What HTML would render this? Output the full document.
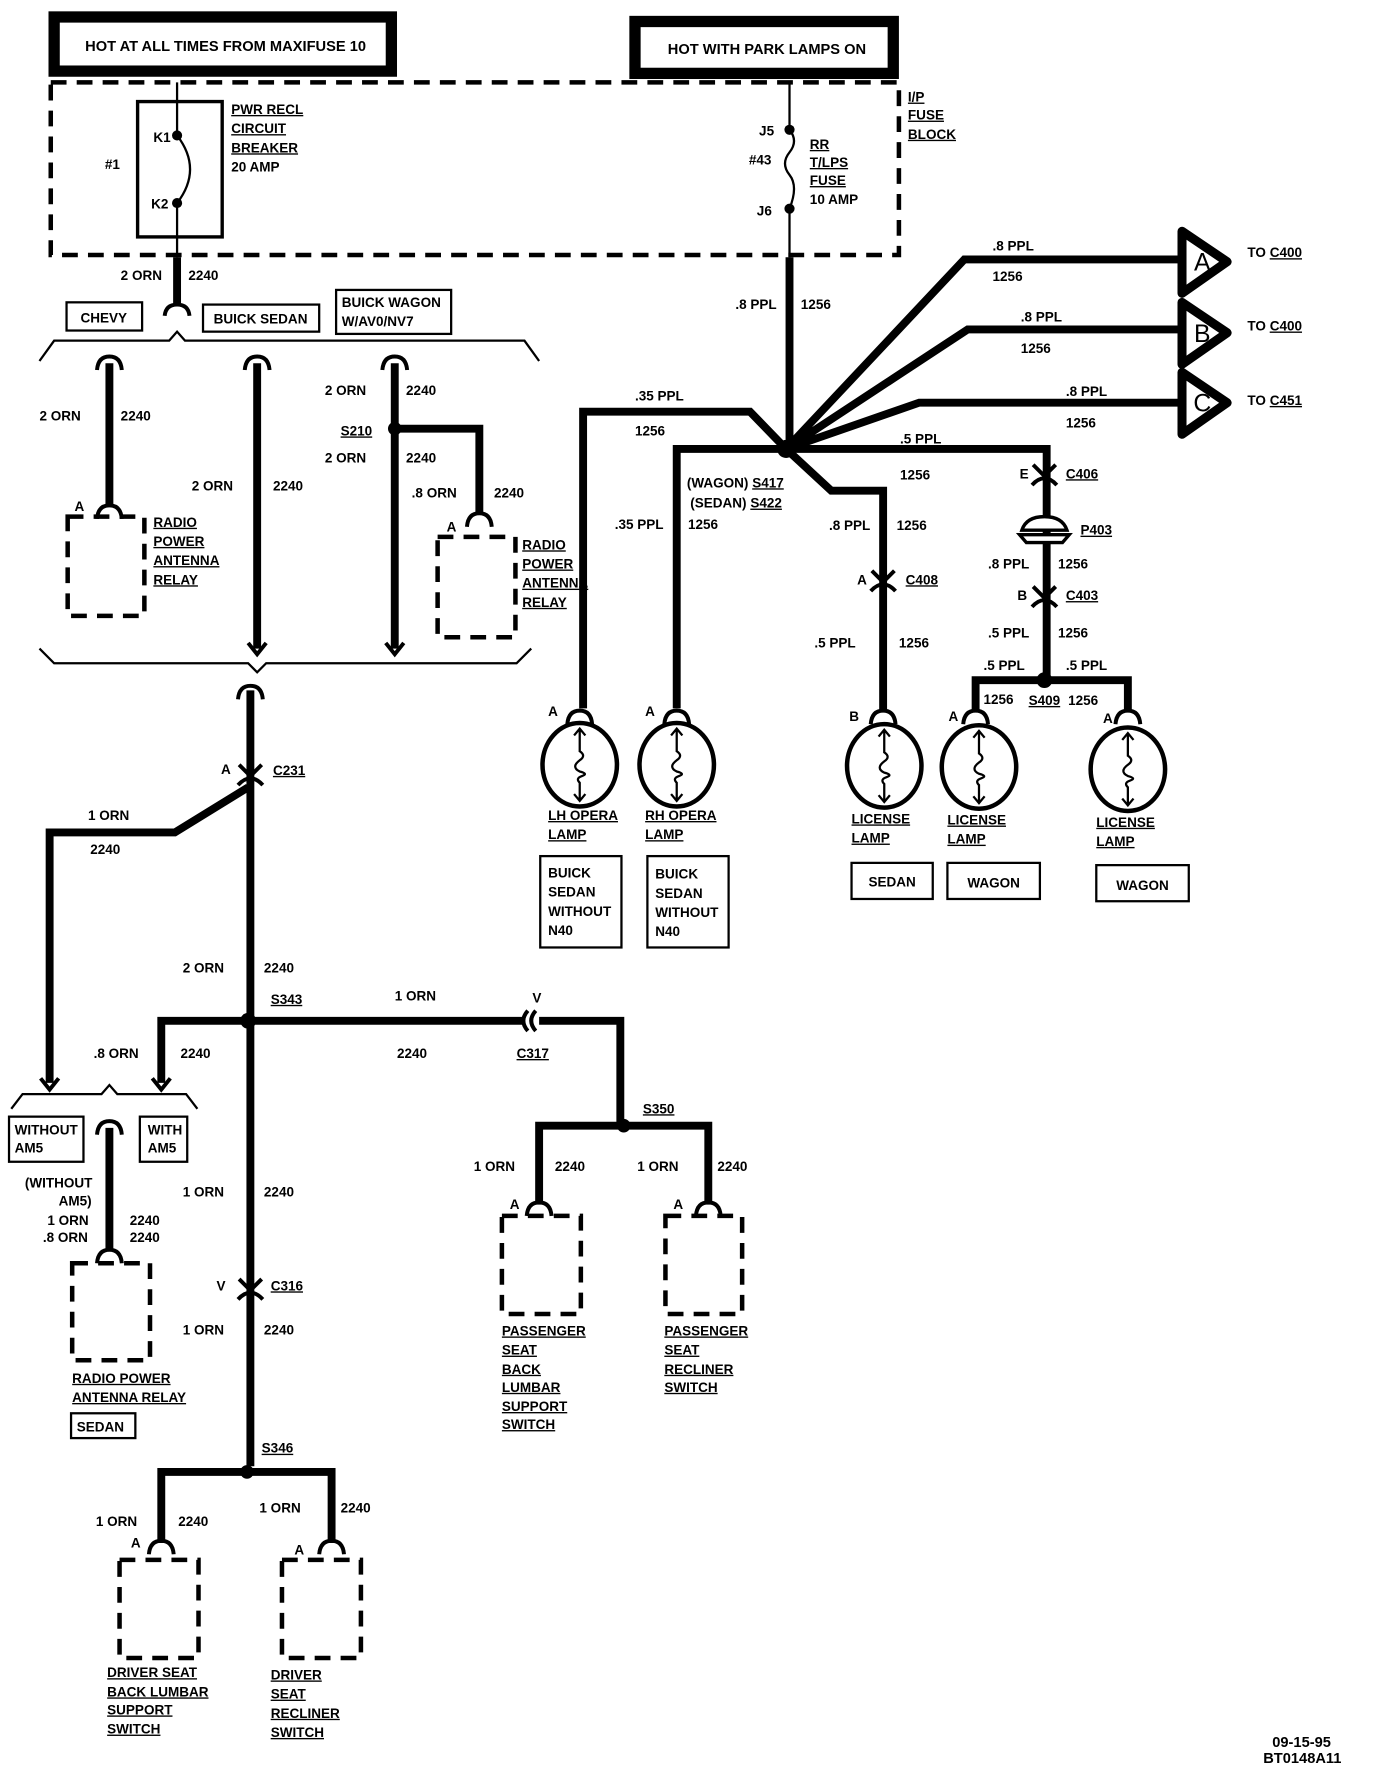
<!DOCTYPE html>
<html><head><meta charset="utf-8"><style>
html,body{margin:0;padding:0;background:#fff}
svg{display:block}
text{font-family:"Liberation Sans",sans-serif;font-weight:bold;font-size:12px;fill:#000}
.u{text-decoration:underline}
.w{stroke:#000;stroke-width:7;fill:none}
.t{stroke:#000;stroke-width:2;fill:none}
.d{stroke:#000;stroke-width:4;fill:none;stroke-dasharray:14 9}
.c{stroke:#000;stroke-width:3.5;fill:none}
.big{font-size:22px;font-weight:normal}
.h{font-size:13px}
</style></head><body>
<svg width="1376" height="1772" viewBox="0 0 1220 1571" xmlns="http://www.w3.org/2000/svg">
<defs>
<g id="fc"><path class="c" d="M-11,8 Q-10,-4 0,-4 Q10,-4 11,8"/></g>
<g id="ic"><path class="c" d="M-10,-8 L0,2 L10,-8 M-11,10 Q0,-2 11,10"/></g>
<g id="lamp"><ellipse cx="0" cy="0" rx="33" ry="37" stroke="#000" stroke-width="4" fill="none"/>
<path class="t" d="M0,-32 L0,-12 Q6,-8 0,-4 Q-8,2 0,6 Q8,8 2,10 Q-4,12 0,16 L0,32 M-5,-26 L0,-32 L5,-26 M-5,26 L0,32 L5,26"/></g>
</defs>
<!-- headers -->
<rect x="48" y="15" width="299" height="48" fill="none" stroke="#000" stroke-width="10"/>
<text x="200" y="45" text-anchor="middle" class="h">HOT AT ALL TIMES FROM MAXIFUSE 10</text>
<rect x="563" y="19" width="229" height="46" fill="none" stroke="#000" stroke-width="10"/>
<text x="680" y="48" text-anchor="middle" class="h">HOT WITH PARK LAMPS ON</text>
<rect x="45" y="73" width="752" height="153" class="d"/>
<!-- breaker -->
<rect x="122" y="90" width="75" height="120" fill="none" stroke="#000" stroke-width="3"/>
<path class="t" d="M157,73 V120 M157,180 V228"/>
<path class="t" d="M157,120 Q180,150 157,180"/>
<circle cx="157" cy="120" r="4.5"/><circle cx="157" cy="180" r="4.5"/>
<text x="136" y="126">K1</text><text x="134" y="185">K2</text><text x="93" y="150">#1</text>
<text x="205" y="101" class="u">PWR RECL</text><text x="205" y="118" class="u">CIRCUIT</text><text x="205" y="135" class="u">BREAKER</text><text x="205" y="152">20 AMP</text>
<!-- fuse -->
<path class="t" d="M700,73 V115 M700,185 V228"/>
<path class="t" d="M700,115 Q708,125 700,135 Q692,145 700,155 Q708,165 700,185"/>
<circle cx="700" cy="115" r="4.5"/><circle cx="700" cy="185" r="4.5"/>
<text x="673" y="120">J5</text><text x="664" y="146">#43</text><text x="671" y="191">J6</text>
<text x="718" y="132" class="u">RR</text><text x="718" y="148" class="u">T/LPS</text><text x="718" y="164" class="u">FUSE</text><text x="718" y="181">10 AMP</text>
<text x="805" y="90" class="u">I/P</text><text x="805" y="106" class="u">FUSE</text><text x="805" y="123" class="u">BLOCK</text>
<!-- left top -->
<path class="w" d="M157,228 V270"/>
<path class="c" d="M146,280 Q147,270 157,270 Q167,270 168,280"/>
<text x="107" y="248">2 ORN</text><text x="167" y="248">2240</text>
<rect x="59" y="268" width="67" height="25" fill="none" stroke="#000" stroke-width="2"/><text x="92" y="286" text-anchor="middle">CHEVY</text>
<rect x="180" y="270" width="103" height="24" fill="none" stroke="#000" stroke-width="2"/><text x="231" y="287" text-anchor="middle">BUICK SEDAN</text>
<rect x="298" y="257" width="102" height="39" fill="none" stroke="#000" stroke-width="2"/><text x="303" y="272">BUICK WAGON</text><text x="303" y="289">W/AV0/NV7</text>
<path class="t" d="M35,320 L48,302 H150 L157,294 L164,302 H465 L478,320"/>
<path class="w" d="M97,322 V448 M228,322 V575 M350,322 V575"/>
<use href="#fc" x="97" y="320"/><use href="#fc" x="228" y="320"/><use href="#fc" x="350" y="320"/>
<path class="c" d="M220,570 L228,580 L236,570 M342,570 L350,580 L358,570"/>
<use href="#fc" x="97" y="452"/>
<text x="35" y="373">2 ORN</text><text x="107" y="373">2240</text>
<text x="170" y="435">2 ORN</text><text x="242" y="435">2240</text>
<text x="288" y="350">2 ORN</text><text x="360" y="350">2240</text>
<circle cx="350" cy="380" r="6"/><text x="302" y="386" class="u">S210</text>
<text x="288" y="410">2 ORN</text><text x="360" y="410">2240</text>
<path class="w" d="M350,380 H425 V455"/><use href="#fc" x="425" y="459"/>
<text x="365" y="441">.8 ORN</text><text x="438" y="441">2240</text>
<text x="66" y="453">A</text><text x="396" y="471">A</text>
<rect x="60" y="458" width="68" height="88" class="d" stroke-dasharray="12 8"/>
<rect x="388" y="476" width="69" height="89" class="d" stroke-dasharray="12 8"/>
<text x="136" y="467" class="u">RADIO</text><text x="136" y="484" class="u">POWER</text><text x="136" y="501" class="u">ANTENNA</text><text x="136" y="518" class="u">RELAY</text>
<text x="463" y="487" class="u">RADIO</text><text x="463" y="504" class="u">POWER</text><text x="463" y="521" class="u">ANTENNA</text><text x="463" y="538" class="u">RELAY</text>
<path class="t" d="M35,575 L48,588 H220 L228,596 L236,588 H458 L471,575"/>
<!-- trunk -->
<path class="w" d="M222,612 V1300"/><use href="#fc" x="222" y="612"/>
<use href="#ic" x="222" y="686"/><text x="196" y="686">A</text><text x="242" y="687" class="u">C231</text>
<path class="w" d="M220,698 L155,738 H44 V960"/>
<path class="c" d="M36,956 L44,966 L52,956"/>
<text x="78" y="727">1 ORN</text><text x="80" y="757">2240</text>
<text x="162" y="862">2 ORN</text><text x="234" y="862">2240</text>
<circle cx="220" cy="905" r="7"/><text x="240" y="890" class="u">S343</text>
<path class="w" d="M220,905 H143 V960"/><path class="c" d="M135,956 L143,966 L151,956"/>
<text x="83" y="938">.8 ORN</text><text x="160" y="938">2240</text>
<path class="w" d="M220,905 H464 M478,905 H550 V998"/>
<path class="c" d="M468,896 Q460,905 468,914 M475,896 Q467,905 475,914"/>
<text x="350" y="887">1 ORN</text><text x="352" y="938">2240</text><text x="472" y="889">V</text><text x="458" y="938" class="u">C317</text>
<circle cx="553" cy="998" r="6"/><text x="570" y="987" class="u">S350</text>
<path class="w" d="M478,1068 V998 H628 V1068"/>
<use href="#fc" x="478" y="1070"/><use href="#fc" x="628" y="1070"/>
<text x="420" y="1038">1 ORN</text><text x="492" y="1038">2240</text><text x="565" y="1038">1 ORN</text><text x="636" y="1038">2240</text>
<text x="452" y="1072">A</text><text x="597" y="1072">A</text>
<rect x="445" y="1078" width="70" height="87" class="d" stroke-dasharray="12 8"/>
<rect x="590" y="1078" width="68" height="87" class="d" stroke-dasharray="12 8"/>
<text x="445" y="1184" class="u">PASSENGER</text><text x="445" y="1201" class="u">SEAT</text><text x="445" y="1218" class="u">BACK</text><text x="445" y="1234" class="u">LUMBAR</text><text x="445" y="1251" class="u">SUPPORT</text><text x="445" y="1267" class="u">SWITCH</text>
<text x="589" y="1184" class="u">PASSENGER</text><text x="589" y="1201" class="u">SEAT</text><text x="589" y="1218" class="u">RECLINER</text><text x="589" y="1234" class="u">SWITCH</text>
<!-- without am5 -->
<path class="t" d="M10,983 L20,970 H90 L97,962 L104,970 H165 L175,983"/>
<rect x="8" y="990" width="66" height="40" fill="none" stroke="#000" stroke-width="2"/><text x="13" y="1006">WITHOUT</text><text x="13" y="1022">AM5</text>
<rect x="124" y="990" width="42" height="40" fill="none" stroke="#000" stroke-width="2"/><text x="131" y="1006">WITH</text><text x="131" y="1022">AM5</text>
<path class="w" d="M97,1000 V1108"/><use href="#fc" x="97" y="998"/><use href="#fc" x="97" y="1112"/>
<text x="22" y="1053">(WITHOUT</text><text x="52" y="1069">AM5)</text>
<text x="42" y="1086">1 ORN</text><text x="115" y="1086">2240</text><text x="38" y="1101">.8 ORN</text><text x="115" y="1101">2240</text>
<rect x="64" y="1120" width="69" height="86" class="d" stroke-dasharray="12 8"/>
<text x="64" y="1226" class="u">RADIO POWER</text><text x="64" y="1243" class="u">ANTENNA RELAY</text>
<rect x="63" y="1253" width="57" height="22" fill="none" stroke="#000" stroke-width="2"/><text x="68" y="1269">SEDAN</text>
<text x="162" y="1061">1 ORN</text><text x="234" y="1061">2240</text>
<use href="#ic" x="222" y="1142"/><text x="192" y="1144">V</text><text x="240" y="1144" class="u">C316</text>
<text x="162" y="1183">1 ORN</text><text x="234" y="1183">2240</text>
<circle cx="219" cy="1305" r="6"/><text x="232" y="1288" class="u">S346</text>
<path class="w" d="M143,1368 V1305 H294 V1368"/>
<use href="#fc" x="143" y="1370"/><use href="#fc" x="294" y="1370"/>
<text x="85" y="1353">1 ORN</text><text x="158" y="1353">2240</text><text x="230" y="1341">1 ORN</text><text x="302" y="1341">2240</text>
<text x="116" y="1372">A</text><text x="261" y="1378">A</text>
<rect x="106" y="1383" width="70" height="87" class="d" stroke-dasharray="12 8"/>
<rect x="250" y="1383" width="70" height="87" class="d" stroke-dasharray="12 8"/>
<text x="95" y="1487" class="u">DRIVER SEAT</text><text x="95" y="1504" class="u">BACK LUMBAR</text><text x="95" y="1520" class="u">SUPPORT</text><text x="95" y="1537" class="u">SWITCH</text>
<text x="240" y="1489" class="u">DRIVER</text><text x="240" y="1506" class="u">SEAT</text><text x="240" y="1523" class="u">RECLINER</text><text x="240" y="1540" class="u">SWITCH</text>
<!-- right side -->
<path class="w" d="M700,228 V398"/>
<text x="652" y="274">.8 PPL</text><text x="710" y="274">1256</text>
<circle cx="697" cy="398" r="8"/>
<path class="w" d="M697,398 L855,230 H1050 M697,398 L858,292 H1050 M697,398 L815,357 H1050"/>
<path d="M1048,205 L1088,232 L1048,260 Z M1048,268 L1088,295 L1048,323 Z M1048,330 L1088,357 L1048,385 Z" stroke="#000" stroke-width="8" fill="#fff" stroke-linejoin="round"/>
<text x="1066" y="240" text-anchor="middle" class="big">A</text>
<text x="1066" y="303" text-anchor="middle" class="big">B</text>
<text x="1066" y="365" text-anchor="middle" class="big">C</text>
<text x="880" y="222">.8 PPL</text><text x="880" y="249">1256</text><text x="1106" y="228">TO <tspan class="u">C400</tspan></text>
<text x="905" y="285">.8 PPL</text><text x="905" y="313">1256</text><text x="1106" y="293">TO <tspan class="u">C400</tspan></text>
<text x="945" y="351">.8 PPL</text><text x="945" y="379">1256</text><text x="1106" y="359">TO <tspan class="u">C451</tspan></text>
<path class="w" d="M697,398 H928 V600"/>
<use href="#ic" x="926" y="420"/><text x="904" y="424">E</text><text x="945" y="424" class="u">C406</text>
<path d="M906,470 Q910,458 926,458 Q942,458 946,470 Z" fill="#fff" stroke="#000" stroke-width="3"/><path d="M904,474 H948 L942,481 H910 Z" fill="#fff" stroke="#000" stroke-width="3"/>
<text x="958" y="474" class="u">P403</text>
<text x="876" y="504">.8 PPL</text><text x="938" y="504">1256</text>
<use href="#ic" x="926" y="528"/><text x="902" y="532">B</text><text x="945" y="532" class="u">C403</text>
<text x="876" y="565">.5 PPL</text><text x="938" y="565">1256</text>
<circle cx="926" cy="603" r="7"/><text x="912" y="625" class="u">S409</text>
<path class="w" d="M865,630 V603 H1000 V630"/>
<text x="872" y="594">.5 PPL</text><text x="872" y="624">1256</text><text x="945" y="594">.5 PPL</text><text x="947" y="625">1256</text>
<text x="798" y="393">.5 PPL</text><text x="798" y="425">1256</text>
<path class="w" d="M697,398 L737,435 H783 V630"/>
<use href="#ic" x="783" y="514"/><text x="760" y="518">A</text><text x="803" y="518" class="u">C408</text>
<text x="735" y="470">.8 PPL</text><text x="795" y="470">1256</text><text x="722" y="574">.5 PPL</text><text x="797" y="574">1256</text>
<path class="w" d="M697,398 L665,365 H517 V628 M697,398 H600 V628"/>
<text x="563" y="355">.35 PPL</text><text x="563" y="386">1256</text>
<text x="609" y="432">(WAGON) <tspan class="u">S417</tspan></text><text x="612" y="450">(SEDAN) <tspan class="u">S422</tspan></text>
<text x="545" y="469">.35 PPL</text><text x="610" y="469">1256</text>
<use href="#fc" x="514" y="634"/><use href="#fc" x="600" y="634"/><use href="#fc" x="783" y="634"/><use href="#fc" x="865" y="634"/><use href="#fc" x="1000" y="634"/>
<text x="486" y="635">A</text><text x="572" y="635">A</text><text x="753" y="639">B</text><text x="841" y="639">A</text><text x="978" y="641">A</text>
<use href="#lamp" x="514" y="678"/><use href="#lamp" x="600" y="678"/><use href="#lamp" x="784" y="679"/><use href="#lamp" x="868" y="680"/><use href="#lamp" x="1000" y="682"/>
<text x="486" y="727" class="u">LH OPERA</text><text x="486" y="744" class="u">LAMP</text>
<text x="572" y="727" class="u">RH OPERA</text><text x="572" y="744" class="u">LAMP</text>
<text x="755" y="730" class="u">LICENSE</text><text x="755" y="747" class="u">LAMP</text>
<text x="840" y="731" class="u">LICENSE</text><text x="840" y="748" class="u">LAMP</text>
<text x="972" y="733" class="u">LICENSE</text><text x="972" y="750" class="u">LAMP</text>
<rect x="479" y="759" width="72" height="81" fill="none" stroke="#000" stroke-width="2"/><text x="486" y="778">BUICK</text><text x="486" y="795">SEDAN</text><text x="486" y="812">WITHOUT</text><text x="486" y="829">N40</text>
<rect x="574" y="759" width="72" height="81" fill="none" stroke="#000" stroke-width="2"/><text x="581" y="779">BUICK</text><text x="581" y="796">SEDAN</text><text x="581" y="813">WITHOUT</text><text x="581" y="830">N40</text>
<rect x="755" y="765" width="72" height="32" fill="none" stroke="#000" stroke-width="2"/><text x="791" y="786" text-anchor="middle">SEDAN</text>
<rect x="840" y="765" width="82" height="32" fill="none" stroke="#000" stroke-width="2"/><text x="881" y="787" text-anchor="middle">WAGON</text>
<rect x="972" y="767" width="82" height="32" fill="none" stroke="#000" stroke-width="2"/><text x="1013" y="789" text-anchor="middle">WAGON</text>
<text x="1128" y="1549" class="h">09-15-95</text><text x="1120" y="1563" class="h">BT0148A11</text>
</svg>
</body></html>
